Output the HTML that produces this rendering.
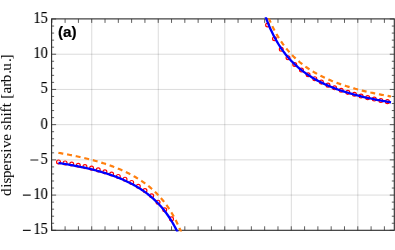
<!DOCTYPE html>
<html><head><meta charset="utf-8"><title>plot</title>
<style>
html,body{margin:0;padding:0;background:#fff}
body{width:395px;height:250px;position:relative;overflow:hidden;font-family:"Liberation Serif",serif;color:#000}
.tl,.pa{will-change:transform}
.tl{position:absolute;right:347.4px;width:60px;text-align:right;font-size:15.8px;line-height:17px;height:17px;white-space:nowrap;transform:scaleX(0.935);transform-origin:100% 50%;-webkit-text-stroke:0.08px #000}
.m{margin-right:2.5px}
.yl{position:absolute;left:-3px;top:196.25px;width:0;height:0}
.yl span{position:absolute;left:0;top:0;width:160px;height:17px;line-height:17px;font-size:15.5px;transform-origin:0 0;transform:rotate(-90deg) scaleX(0.968);white-space:nowrap;-webkit-text-stroke:0.06px #000}
.yl i{font-style:normal;position:absolute;top:0}
.pa{position:absolute;left:57.7px;top:23.1px;-webkit-text-stroke:0.2px #000;font-family:"Liberation Sans",sans-serif;font-weight:bold;font-size:15.3px;line-height:17px}
</style></head><body>
<svg width="395" height="250" viewBox="0 0 395 250" style="position:absolute;left:0;top:0">
<defs><clipPath id="c"><rect x="51.60" y="18.30" width="342.70" height="213.30"/></clipPath><clipPath id="cb"><rect x="51.60" y="17.20" width="342.70" height="214.40"/></clipPath></defs>
<path d="M91.76,18.9 V230.3 M158.28,18.9 V230.3 M224.8,18.9 V230.3 M291.32,18.9 V230.3 M357.84,18.9 V230.3 M51.6,54.22 H394.3 M51.6,89.44 H394.3 M51.6,124.65 H394.3 M51.6,159.87 H394.3 M51.6,195.08 H394.3" stroke="#000" stroke-opacity="0.14" stroke-width="1" fill="none"/>
<rect x="51.60" y="18.90" width="342.70" height="211.40" fill="none" stroke="#2a2a2a" stroke-width="1.1"/>
<path d="M51.80,230.3 v-4 M51.80,18.9 v4 M65.10,230.3 v-4 M65.10,18.9 v4 M78.41,230.3 v-4 M78.41,18.9 v4 M91.71,230.3 v-4 M91.71,18.9 v4 M105.02,230.3 v-4 M105.02,18.9 v4 M118.32,230.3 v-4 M118.32,18.9 v4 M131.62,230.3 v-4 M131.62,18.9 v4 M144.93,230.3 v-4 M144.93,18.9 v4 M158.23,230.3 v-4 M158.23,18.9 v4 M171.54,230.3 v-4 M171.54,18.9 v4 M184.84,230.3 v-4 M184.84,18.9 v4 M198.14,230.3 v-4 M198.14,18.9 v4 M211.45,230.3 v-4 M211.45,18.9 v4 M224.75,230.3 v-4 M224.75,18.9 v4 M238.06,230.3 v-4 M238.06,18.9 v4 M251.36,230.3 v-4 M251.36,18.9 v4 M264.66,230.3 v-4 M264.66,18.9 v4 M277.97,230.3 v-4 M277.97,18.9 v4 M291.27,230.3 v-4 M291.27,18.9 v4 M304.58,230.3 v-4 M304.58,18.9 v4 M317.88,230.3 v-4 M317.88,18.9 v4 M331.18,230.3 v-4 M331.18,18.9 v4 M344.49,230.3 v-4 M344.49,18.9 v4 M357.79,230.3 v-4 M357.79,18.9 v4 M371.10,230.3 v-4 M371.10,18.9 v4 M384.40,230.3 v-4 M384.40,18.9 v4 M51.6,230.30 h4.5 M394.3,230.30 h-4.5 M51.6,223.25 h2.5 M394.3,223.25 h-2.5 M51.6,216.21 h2.5 M394.3,216.21 h-2.5 M51.6,209.17 h2.5 M394.3,209.17 h-2.5 M51.6,202.12 h2.5 M394.3,202.12 h-2.5 M51.6,195.08 h4.5 M394.3,195.08 h-4.5 M51.6,188.04 h2.5 M394.3,188.04 h-2.5 M51.6,180.99 h2.5 M394.3,180.99 h-2.5 M51.6,173.95 h2.5 M394.3,173.95 h-2.5 M51.6,166.91 h2.5 M394.3,166.91 h-2.5 M51.6,159.87 h4.5 M394.3,159.87 h-4.5 M51.6,152.82 h2.5 M394.3,152.82 h-2.5 M51.6,145.78 h2.5 M394.3,145.78 h-2.5 M51.6,138.74 h2.5 M394.3,138.74 h-2.5 M51.6,131.69 h2.5 M394.3,131.69 h-2.5 M51.6,124.65 h4.5 M394.3,124.65 h-4.5 M51.6,117.61 h2.5 M394.3,117.61 h-2.5 M51.6,110.56 h2.5 M394.3,110.56 h-2.5 M51.6,103.52 h2.5 M394.3,103.52 h-2.5 M51.6,96.48 h2.5 M394.3,96.48 h-2.5 M51.6,89.44 h4.5 M394.3,89.44 h-4.5 M51.6,82.39 h2.5 M394.3,82.39 h-2.5 M51.6,75.35 h2.5 M394.3,75.35 h-2.5 M51.6,68.31 h2.5 M394.3,68.31 h-2.5 M51.6,61.26 h2.5 M394.3,61.26 h-2.5 M51.6,54.22 h4.5 M394.3,54.22 h-4.5 M51.6,47.18 h2.5 M394.3,47.18 h-2.5 M51.6,40.13 h2.5 M394.3,40.13 h-2.5 M51.6,33.09 h2.5 M394.3,33.09 h-2.5 M51.6,26.05 h2.5 M394.3,26.05 h-2.5 M51.6,19.01 h4.5 M394.3,19.01 h-4.5" stroke="#2a2a2a" stroke-width="0.75" fill="none"/>
<g clip-path="url(#c)" fill="none">
<path d="M58.40,152.81 L59.47,153.00 L60.54,153.18 L61.61,153.37 L62.68,153.56 L63.75,153.75 L64.81,153.94 L65.88,154.14 L66.95,154.34 L68.02,154.54 L69.09,154.75 L70.16,154.96 L71.23,155.17 L72.30,155.38 L73.37,155.60 L74.44,155.82 L75.51,156.04 L76.57,156.27 L77.64,156.50 L78.71,156.73 L79.78,156.97 L80.85,157.21 L81.92,157.45 L82.99,157.70 L84.06,157.95 L85.13,158.20 L86.20,158.46 L87.27,158.73 L88.33,158.99 L89.40,159.26 L90.47,159.54 L91.54,159.82 L92.61,160.11 L93.68,160.39 L94.75,160.69 L95.82,160.99 L96.89,161.29 L97.96,161.60 L99.03,161.91 L100.09,162.23 L101.16,162.56 L102.23,162.89 L103.30,163.23 L104.37,163.57 L105.44,163.92 L106.51,164.27 L107.58,164.63 L108.65,165.00 L109.72,165.38 L110.78,165.76 L111.85,166.15 L112.92,166.55 L113.99,166.95 L115.06,167.36 L116.13,167.78 L117.20,168.21 L118.27,168.65 L119.34,169.09 L120.41,169.55 L121.48,170.01 L122.54,170.49 L123.61,170.97 L124.68,171.47 L125.75,171.97 L126.82,172.49 L127.89,173.02 L128.96,173.56 L130.03,174.11 L131.10,174.68 L132.17,175.25 L133.24,175.84 L134.30,176.45 L135.37,177.07 L136.44,177.70 L137.51,178.35 L138.58,179.02 L139.65,179.70 L140.72,180.40 L141.79,181.12 L142.86,181.86 L143.93,182.62 L145.00,183.39 L146.06,184.19 L147.13,185.01 L148.20,185.85 L149.27,186.72 L150.34,187.61 L151.41,188.53 L152.48,189.48 L153.55,190.45 L154.62,191.45 L155.69,192.49 L156.76,193.55 L157.82,194.65 L158.89,195.79 L159.96,196.96 L161.03,198.18 L162.10,199.43 L163.17,200.73 L164.24,202.07 L165.31,203.47 L166.38,204.91 L167.45,206.41 L168.52,207.96 L169.58,209.58 L170.65,211.25 L171.72,213.00 L172.79,214.82 L173.86,216.71 L174.93,218.69 L176.00,220.75 L177.07,222.91 L178.14,225.16 L179.21,227.52 L180.28,229.99 L181.34,232.59 L182.41,235.31 L183.48,238.18 L184.55,241.20 L185.62,244.38 M268.72,18.10 L269.75,20.54 L270.78,22.86 L271.81,25.09 L272.83,27.22 L273.86,29.26 L274.89,31.21 L275.92,33.09 L276.95,34.89 L277.97,36.63 L279.00,38.29 L280.03,39.90 L281.06,41.45 L282.09,42.94 L283.11,44.38 L284.14,45.77 L285.17,47.11 L286.20,48.41 L287.23,49.66 L288.25,50.87 L289.28,52.05 L290.31,53.19 L291.34,54.29 L292.37,55.36 L293.39,56.40 L294.42,57.41 L295.45,58.38 L296.48,59.33 L297.51,60.26 L298.53,61.15 L299.56,62.03 L300.59,62.87 L301.62,63.70 L302.64,64.50 L303.67,65.29 L304.70,66.05 L305.73,66.80 L306.76,67.52 L307.78,68.23 L308.81,68.92 L309.84,69.59 L310.87,70.25 L311.90,70.89 L312.92,71.52 L313.95,72.13 L314.98,72.73 L316.01,73.31 L317.04,73.88 L318.06,74.44 L319.09,74.99 L320.12,75.53 L321.15,76.05 L322.18,76.56 L323.20,77.06 L324.23,77.56 L325.26,78.04 L326.29,78.51 L327.32,78.97 L328.34,79.43 L329.37,79.87 L330.40,80.31 L331.43,80.73 L332.46,81.15 L333.48,81.56 L334.51,81.97 L335.54,82.36 L336.57,82.75 L337.60,83.13 L338.62,83.51 L339.65,83.88 L340.68,84.24 L341.71,84.59 L342.74,84.94 L343.76,85.28 L344.79,85.62 L345.82,85.95 L346.85,86.28 L347.88,86.60 L348.90,86.91 L349.93,87.22 L350.96,87.53 L351.99,87.83 L353.02,88.12 L354.04,88.41 L355.07,88.70 L356.10,88.98 L357.13,89.26 L358.16,89.53 L359.18,89.80 L360.21,90.06 L361.24,90.32 L362.27,90.58 L363.29,90.83 L364.32,91.08 L365.35,91.33 L366.38,91.57 L367.41,91.81 L368.43,92.04 L369.46,92.28 L370.49,92.50 L371.52,92.73 L372.55,92.95 L373.57,93.17 L374.60,93.39 L375.63,93.60 L376.66,93.81 L377.69,94.02 L378.71,94.22 L379.74,94.42 L380.77,94.62 L381.80,94.82 L382.83,95.01 L383.85,95.20 L384.88,95.39 L385.91,95.58 L386.94,95.76 L387.97,95.95 L388.99,96.13 L390.02,96.30 L391.05,96.48" stroke="#ff7f0e" stroke-width="2.2" stroke-dasharray="4.95 3.85"/>
<g stroke="#ff0000" stroke-width="1.2"><circle cx="58.51" cy="161.93" r="1.93"/><circle cx="65.09" cy="162.92" r="1.93"/><circle cx="71.69" cy="164.01" r="1.93"/><circle cx="78.30" cy="165.23" r="1.93"/><circle cx="84.93" cy="166.60" r="1.93"/><circle cx="91.58" cy="168.15" r="1.93"/><circle cx="98.24" cy="169.89" r="1.93"/><circle cx="104.91" cy="171.86" r="1.93"/><circle cx="111.60" cy="173.99" r="1.93"/><circle cx="118.30" cy="176.42" r="1.93"/><circle cx="125.01" cy="179.20" r="1.93"/><circle cx="131.66" cy="182.45" r="1.93"/><circle cx="138.31" cy="186.21" r="1.93"/><circle cx="144.98" cy="190.60" r="1.93"/><circle cx="151.65" cy="195.77" r="1.93"/><circle cx="158.03" cy="202.20" r="1.93"/><circle cx="164.72" cy="209.71" r="1.93"/><circle cx="171.49" cy="218.88" r="1.93"/><circle cx="267.59" cy="24.99" r="1.93"/><circle cx="274.50" cy="38.73" r="1.93"/><circle cx="281.27" cy="49.33" r="1.93"/><circle cx="288.02" cy="57.70" r="1.93"/><circle cx="294.75" cy="64.46" r="1.93"/><circle cx="301.46" cy="70.05" r="1.93"/><circle cx="308.13" cy="74.71" r="1.93"/><circle cx="314.79" cy="78.69" r="1.93"/><circle cx="321.40" cy="82.12" r="1.93"/><circle cx="327.99" cy="85.13" r="1.93"/><circle cx="334.60" cy="87.81" r="1.93"/><circle cx="341.22" cy="90.21" r="1.93"/><circle cx="347.83" cy="92.36" r="1.93"/><circle cx="354.45" cy="94.30" r="1.93"/><circle cx="361.06" cy="96.06" r="1.93"/><circle cx="367.66" cy="97.65" r="1.93"/><circle cx="374.27" cy="99.09" r="1.93"/><circle cx="380.86" cy="100.41" r="1.93"/><circle cx="387.43" cy="101.63" r="1.93"/></g>
</g>
<path d="M58.40,163.00 L59.44,163.16 L60.49,163.32 L61.53,163.48 L62.58,163.64 L63.62,163.80 L64.67,163.97 L65.71,164.14 L66.76,164.32 L67.80,164.49 L68.85,164.67 L69.89,164.85 L70.94,165.04 L71.98,165.22 L73.03,165.41 L74.07,165.61 L75.12,165.80 L76.16,166.00 L77.21,166.20 L78.25,166.41 L79.30,166.62 L80.34,166.83 L81.39,167.05 L82.43,167.27 L83.48,167.49 L84.52,167.72 L85.57,167.95 L86.61,168.18 L87.66,168.42 L88.70,168.66 L89.75,168.91 L90.79,169.16 L91.84,169.42 L92.88,169.68 L93.93,169.94 L94.97,170.21 L96.02,170.49 L97.06,170.76 L98.11,171.05 L99.15,171.34 L100.20,171.63 L101.24,171.93 L102.29,172.24 L103.33,172.55 L104.38,172.86 L105.42,173.19 L106.47,173.51 L107.51,173.85 L108.56,174.19 L109.60,174.54 L110.65,174.89 L111.69,175.26 L112.74,175.62 L113.78,176.00 L114.83,176.38 L115.87,176.78 L116.92,177.18 L117.96,177.58 L119.01,178.00 L120.05,178.42 L121.10,178.86 L122.14,179.30 L123.19,179.76 L124.23,180.22 L125.28,180.69 L126.32,181.17 L127.37,181.67 L128.41,182.17 L129.46,182.69 L130.50,183.22 L131.54,183.76 L132.59,184.32 L133.63,184.88 L134.68,185.46 L135.72,186.06 L136.77,186.67 L137.81,187.29 L138.86,187.93 L139.90,188.59 L140.95,189.26 L141.99,189.95 L143.04,190.66 L144.08,191.39 L145.13,192.14 L146.17,192.90 L147.22,193.69 L148.26,194.50 L149.31,195.34 L150.35,196.20 L151.40,197.08 L152.44,197.99 L153.49,198.92 L154.53,199.89 L155.58,200.88 L156.62,201.91 L157.67,202.96 L158.71,204.06 L159.76,205.18 L160.80,206.35 L161.85,207.55 L162.89,208.80 L163.94,210.09 L164.98,211.42 L166.03,212.80 L167.07,214.23 L168.12,215.72 L169.16,217.26 L170.21,218.87 L171.25,220.53 L172.30,222.27 L173.34,224.07 L174.39,225.95 L175.43,227.91 L176.48,229.95 L177.52,232.09 L178.57,234.33 L179.61,236.66 L180.66,239.11 L181.70,241.68 L182.75,244.38 M261.77,4.92 L262.86,8.52 L263.94,11.92 L265.03,15.14 L266.12,18.19 L267.20,21.08 L268.29,23.83 L269.38,26.44 L270.46,28.93 L271.55,31.30 L272.64,33.57 L273.72,35.73 L274.81,37.80 L275.89,39.78 L276.98,41.68 L278.07,43.50 L279.15,45.24 L280.24,46.92 L281.33,48.54 L282.41,50.09 L283.50,51.58 L284.59,53.02 L285.67,54.41 L286.76,55.75 L287.84,57.04 L288.93,58.29 L290.02,59.50 L291.10,60.66 L292.19,61.79 L293.28,62.89 L294.36,63.94 L295.45,64.97 L296.54,65.96 L297.62,66.93 L298.71,67.86 L299.79,68.77 L300.88,69.65 L301.97,70.51 L303.05,71.34 L304.14,72.15 L305.23,72.94 L306.31,73.71 L307.40,74.46 L308.49,75.18 L309.57,75.89 L310.66,76.58 L311.74,77.25 L312.83,77.91 L313.92,78.55 L315.00,79.17 L316.09,79.78 L317.18,80.37 L318.26,80.95 L319.35,81.52 L320.44,82.07 L321.52,82.61 L322.61,83.14 L323.69,83.66 L324.78,84.17 L325.87,84.66 L326.95,85.14 L328.04,85.62 L329.13,86.08 L330.21,86.53 L331.30,86.98 L332.39,87.41 L333.47,87.84 L334.56,88.26 L335.65,88.67 L336.73,89.07 L337.82,89.46 L338.90,89.85 L339.99,90.23 L341.08,90.60 L342.16,90.96 L343.25,91.32 L344.34,91.67 L345.42,92.01 L346.51,92.35 L347.60,92.68 L348.68,93.01 L349.77,93.33 L350.85,93.64 L351.94,93.95 L353.03,94.26 L354.11,94.56 L355.20,94.85 L356.29,95.14 L357.37,95.42 L358.46,95.70 L359.55,95.97 L360.63,96.24 L361.72,96.51 L362.80,96.77 L363.89,97.03 L364.98,97.28 L366.06,97.53 L367.15,97.77 L368.24,98.01 L369.32,98.25 L370.41,98.48 L371.50,98.71 L372.58,98.94 L373.67,99.16 L374.75,99.38 L375.84,99.60 L376.93,99.81 L378.01,100.02 L379.10,100.23 L380.19,100.44 L381.27,100.64 L382.36,100.84 L383.45,101.03 L384.53,101.22 L385.62,101.41 L386.70,101.60 L387.79,101.79 L388.88,101.97 L389.96,102.15 L391.05,102.33" stroke="#0000ff" stroke-width="2.3" fill="none" clip-path="url(#cb)"/>
<path d="M30.4,159.97 H38.3 M22.9,195.18 H30.7 M22.9,230.40 H30.7" stroke="#1a1a1a" stroke-width="1.15" fill="none"/>
</svg><div class="tl" style="top:9.2px">15</div><div class="tl" style="top:44.1px">10</div><div class="tl" style="top:79.3px">5</div><div class="tl" style="top:114.6px">0</div><div class="tl" style="top:149.8px">5</div><div class="tl" style="top:185.0px">10</div><div class="tl" style="top:220.2px">15</div>
<div class="yl"><span><i style="left:0.00px">d</i><i style="left:8.48px">i</i><i style="left:12.99px">s</i><i style="left:18.57px">p</i><i style="left:26.12px">e</i><i style="left:33.38px">r</i><i style="left:38.48px">s</i><i style="left:44.72px">i</i><i style="left:49.51px">v</i><i style="left:57.17px">e</i><i style="left:68.08px">s</i><i style="left:74.35px">h</i><i style="left:82.07px">i</i><i style="left:86.18px">f</i><i style="left:91.62px">t</i><i style="left:100.50px">[</i><i style="left:105.91px">a</i><i style="left:113.00px">r</i><i style="left:117.56px">b</i><i style="left:126.31px">.</i><i style="left:129.30px">u</i><i style="left:138.40px">.</i><i style="left:141.04px">]</i></span></div>
<div class="pa">(a)</div>
</body></html>
